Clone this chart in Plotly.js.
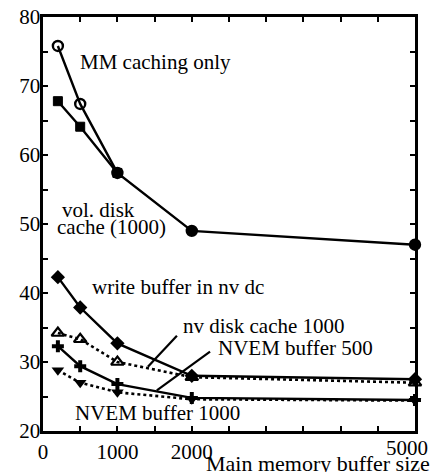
<!DOCTYPE html>
<html>
<head>
<meta charset="utf-8">
<script src="https://cdn.plot.ly/plotly-3.0.1.min.js"></script>
<style>html,body{margin:0;padding:0;background:#fff;}#chart{width:431px;height:472px;}</style>
</head>
<body>
<div id="chart"></div>
<script>
// Data
const bufferSizes = [200, 500, 1000, 2000, 5000];
const volSizes = [200, 500, 1000];
const mmCachingOnly = [75.8, 67.4, 57.4, 49.0, 47.0];
const volDiskCache = [67.8, 64.1, 57.4];
const writeBufferNvDc = [42.3, 37.9, 32.7, 28.0, 27.5];
const nvDiskCache1000 = [34.2, 33.3, 30.0, 27.8, 27.0];
const nvemBuffer500 = [32.3, 29.4, 26.8, 24.8, 24.5];
const nvemBuffer1000 = [28.8, 27.0, 25.6, 24.6, 24.4];
const xTickVals = [0, 500, 1000, 1500, 2000, 2500, 3000, 3500, 4000, 4500, 5000];
const xTickText = ['0', '', '1000', '', '2000', '', '', '', '', '', ''];
const xLastTickLabel = '5000';
const yTickVals = [20, 25, 30, 35, 40, 45, 50, 55, 60, 65, 70, 75, 80];
const yTickText = ['20', '', '30', '', '40', '', '50', '', '60', '', '70', '', '80'];

const FONT = 'Liberation Serif';
const black = 'rgb(0,0,0)';

function mk(symbol, size, lw) {
  return {symbol: symbol, size: size, color: black, opacity: 1, line: {color: black, width: lw}};
}

const traces = [
  {x: volSizes, y: volDiskCache, mode: 'lines+markers', cliponaxis: false,
   line: {color: black, width: 2.4}, marker: mk('square', 9, 1)},
  {x: bufferSizes, y: mmCachingOnly, mode: 'lines+markers', cliponaxis: false,
   line: {color: black, width: 2.4},
   marker: {symbol: ['circle-open', 'circle-open', 'circle', 'circle', 'circle'], size: 10, color: black, line: {color: black, width: 2.4}}},
  {x: bufferSizes, y: writeBufferNvDc, mode: 'lines+markers', cliponaxis: false,
   line: {color: black, width: 2.4}, marker: mk('diamond', 11, 0)},
  {x: bufferSizes, y: nvDiskCache1000, mode: 'lines+markers', cliponaxis: false,
   line: {color: black, width: 2.6, dash: 'dot'}, marker: mk('triangle-up-open', 11, 2.2)},
  {x: bufferSizes, y: nvemBuffer500, mode: 'lines+markers', cliponaxis: false,
   line: {color: black, width: 2.4}, marker: mk('cross', 10, 0)},
  {x: bufferSizes, y: nvemBuffer1000, mode: 'lines+markers', cliponaxis: false,
   line: {color: black, width: 2.6, dash: 'dot'}, marker: mk('triangle-down', 11, 0)}
];

function ann(text, x, y) {
  return {text: text, x: x, y: y, xref: 'x', yref: 'y', xanchor: 'left', yanchor: 'middle',
          showarrow: false, font: {family: FONT, size: 21, color: black}};
}

const layout = {
  width: 431, height: 472,
  margin: {l: 43, r: 16, t: 17, b: 41},
  paper_bgcolor: '#fff', plot_bgcolor: '#fff',
  showlegend: false,
  font: {family: FONT, size: 21, color: black},
  xaxis: {
    range: [0, 5000], tickmode: 'array', tickvals: xTickVals, ticktext: xTickText,
    ticks: 'inside', ticklen: 5, tickwidth: 2, tickcolor: black,
    showline: true, linewidth: 2.6, linecolor: black, mirror: 'ticks',
    showgrid: false, zeroline: false, fixedrange: true,
    tickfont: {family: FONT, size: 21, color: black}
  },
  yaxis: {
    range: [20, 80], tickmode: 'array', tickvals: yTickVals, ticktext: yTickText,
    ticks: 'inside', ticklen: 5, tickwidth: 2, tickcolor: black,
    showline: true, linewidth: 2.6, linecolor: black, mirror: 'ticks',
    showgrid: false, zeroline: false, fixedrange: true, ticklabelstandoff: -4,
    tickfont: {family: FONT, size: 21, color: black}
  },
  annotations: [
    ann('MM caching only', 470, 73.5),
    ann('vol. disk', 230, 52.1),
    ann('cache (1000)', 160, 49.6),
    ann('write buffer in nv dc', 630, 40.9),
    ann('nv disk cache 1000', 1850, 35.2),
    ann('NVEM buffer 500', 2330, 32.0),
    ann('NVEM buffer 1000', 400, 22.6),
    {text: xLastTickLabel, xref: 'x', yref: 'paper', x: xTickVals[xTickVals.length - 1], y: -0.041,
     xanchor: 'right', yanchor: 'middle', xshift: 15, showarrow: false,
     font: {family: FONT, size: 21, color: black}},
    {text: 'Main memory buffer size', xref: 'paper', yref: 'paper', x: 0.74, y: -0.078,
     xanchor: 'center', yanchor: 'middle', showarrow: false,
     font: {family: FONT, size: 22, color: black}}
  ],
  shapes: [
    {type: 'line', xref: 'x', yref: 'y', x0: 1800, y0: 33.8, x1: 1410, y1: 29.3, line: {color: black, width: 2.2}},
    {type: 'line', xref: 'x', yref: 'y', x0: 2245, y0: 31.5, x1: 1530, y1: 25.9, line: {color: black, width: 2.2}}
  ]
};

Plotly.newPlot('chart', traces, layout, {displayModeBar: false, staticPlot: true});
</script>
</body>
</html>
